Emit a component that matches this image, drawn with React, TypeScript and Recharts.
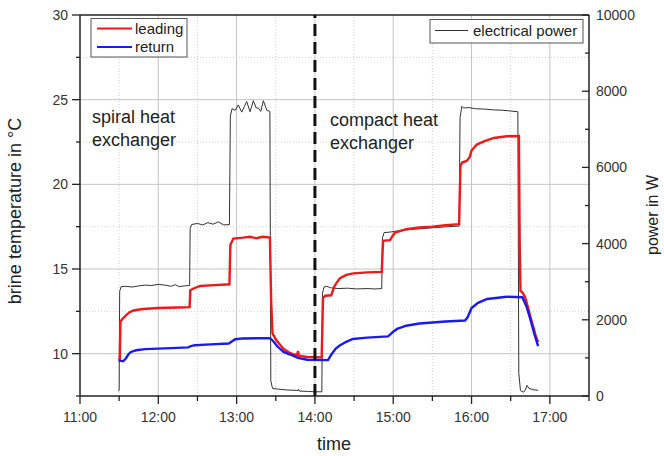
import React from 'react';
import { LineChart, Line, XAxis, YAxis, ReferenceLine } from 'recharts';

// time in minutes since midnight
const timeTickLabels = ['11:00', '12:00', '13:00', '14:00', '15:00', '16:00', '17:00'];
const timeTicks = [660, 690, 720, 750, 780, 810, 840, 870, 900, 930, 960, 990, 1020, 1050];
const tempTicks = [7.5, 10, 12.5, 15, 17.5, 20, 22.5, 25, 27.5, 30];
const powerTicks = [0, 1000, 2000, 3000, 4000, 5000, 6000, 7000, 8000, 9000, 10000];

const gridTimeMajor = [720, 780, 840, 900, 960, 1020];
const gridTimeMinor = [690, 750, 810, 870, 930, 990];
const gridTempMajor = [10, 15, 20, 25];
const gridTempMinor = [12.5, 17.5, 22.5, 27.5];

const switchTime = 840;

// electrical power in W
const powerSeries: [number, number][] = [
  [689.5, 120], [690, 150], [690.4, 2750], [691.5, 2870], [695, 2880], [700, 2860], [705, 2890], [710, 2910],
  [715, 2900], [720, 2930], [725, 2910], [730, 2880], [733, 2920], [736, 2870], [740, 2890], [744, 2900],
  [744.4, 4400], [745.5, 4500], [750, 4530], [754, 4490], [758, 4550], [762, 4510], [766, 4570], [770, 4490], [774.5, 4500],
  [775.2, 7350], [776.5, 7540], [779, 7500], [781.3, 7640], [783.9, 7450], [786, 7600], [787.7, 7730], [790.3, 7460],
  [792.8, 7750], [795, 7560], [796.6, 7560], [798.5, 7470], [800.5, 7750], [803.1, 7500], [805.5, 7470],
  [806.2, 400], [807.5, 200], [812, 180], [818, 160], [824, 150], [827, 145], [827.5, 180], [828, 130], [835, 120],
  [840, 110], [845.3, 110],
  [845.8, 2700], [847, 2860], [849, 2880], [852, 2840], [858, 2820], [865, 2830], [872, 2810], [880, 2820], [886, 2810], [891.2, 2820],
  [891.8, 4150], [893, 4290], [897, 4300], [903, 4330], [910, 4360], [917, 4380], [925, 4400], [932, 4420], [940, 4440],
  [946, 4450], [950.5, 4460],
  [951.2, 7300], [952.5, 7600], [954, 7560], [958, 7570], [963, 7540], [970, 7530], [977, 7510], [984, 7500], [990, 7480], [995.5, 7460],
  [996.2, 600], [997.5, 140], [1000, 100], [1001.5, 180], [1002.5, 280], [1004, 200], [1007, 165], [1011, 150],
];

// leading brine temperature in °C
const leadingSeries: [number, number][] = [
  [689.5, 9.65], [690.5, 9.7], [691, 11.9], [692.5, 12.05], [695, 12.25], [698, 12.45], [701, 12.55], [708, 12.64],
  [720, 12.7], [735, 12.73], [744, 12.75], [744.5, 13.75], [747, 13.85], [752, 14.0], [763, 14.05], [774.5, 14.1],
  [775.2, 16.42], [777.5, 16.8], [785, 16.85], [790, 16.9], [795, 16.82], [800, 16.9], [805.5, 16.85], [806.5, 13],
  [807.5, 11.2], [810, 10.85], [813, 10.55], [816, 10.28], [820, 10.08], [823, 9.97], [826.5, 9.92], [827, 10.15],
  [827.8, 9.88], [834, 9.8], [845.2, 9.78], [846.2, 13.3], [848, 13.42], [852.5, 13.45], [855, 14.0], [859, 14.45],
  [864, 14.65], [869.5, 14.74], [880, 14.8], [891.2, 14.83], [892.2, 16.66], [897.5, 16.7], [899.5, 16.95], [901.3, 17.15],
  [910, 17.35], [920, 17.45], [930, 17.5], [940, 17.58], [950.5, 17.65], [951.5, 21.1], [953, 21.3], [956.3, 21.38],
  [958.5, 21.6], [960, 22.0], [964, 22.35], [970, 22.55], [977, 22.74], [987, 22.84], [996.3, 22.85], [996.9, 16.5],
  [997.5, 13.7], [999, 13.62], [1001, 13.35], [1003, 12.8], [1005, 12.2], [1007.4, 11.56], [1009, 11.1], [1011, 10.68],
];

// return brine temperature in °C
const returnSeries: [number, number][] = [
  [689.5, 9.6], [693, 9.55], [695, 9.7], [697, 9.95], [699, 10.1], [703, 10.2], [710, 10.27], [720, 10.3], [730, 10.33],
  [743, 10.37], [745, 10.45], [748, 10.5], [760, 10.55], [774, 10.6], [776, 10.7], [779, 10.85], [785, 10.9], [805.5, 10.92],
  [808, 10.75], [811, 10.45], [816, 10.1], [821, 9.95], [827, 9.75], [834, 9.64], [850, 9.62], [853, 10.0], [856, 10.3],
  [859, 10.48], [864, 10.7], [869, 10.87], [880, 10.95], [896, 11.02], [898, 11.15], [900, 11.3], [903, 11.46], [910, 11.65],
  [920, 11.78], [940, 11.9], [955, 11.96], [957, 12.15], [960, 12.7], [965, 13.0], [972, 13.23], [987, 13.36], [999, 13.33],
  [1002, 12.8], [1005, 12.05], [1008, 11.2], [1011, 10.45],
];

const toRows = (s: [number, number][]) => s.map(([t, v]) => ({ t, v }));
const powerRows = toRows(powerSeries);
const leadingRows = toRows(leadingSeries);
const returnRows = toRows(returnSeries);

const FONT = '"Liberation Sans", Arial, sans-serif';
const AXIS = '#222';
const TICK_TEXT = '#333';

const LeftTick = (props: any) => {
  const { x, y, payload } = props;
  const v = payload.value;
  const major = v % 5 === 0;
  return (
    <g>
      <line x1={x} x2={x - (major ? 8 : 4)} y1={y} y2={y} stroke={AXIS} strokeWidth={1.3} />
      {major && (
        <text x={x - 12} y={y} dy="0.36em" textAnchor="end" fontSize={14} fontFamily={FONT} fill={TICK_TEXT}>
          {v}
        </text>
      )}
    </g>
  );
};

const RightTick = (props: any) => {
  const { x, y, payload } = props;
  const v = payload.value;
  const major = v % 2000 === 0;
  return (
    <g>
      <line x1={x} x2={x - (major ? 7 : 4)} y1={y} y2={y} stroke={AXIS} strokeWidth={1.3} />
      {major && (
        <text x={x + 7} y={y} dy="0.36em" textAnchor="start" fontSize={14} fontFamily={FONT} fill={TICK_TEXT}>
          {v}
        </text>
      )}
    </g>
  );
};

const BottomTick = (props: any) => {
  const { x, y, payload } = props;
  const v = payload.value;
  const major = v % 60 === 0;
  const idx = (v - 660) / 60;
  return (
    <g>
      <line x1={x} x2={x} y1={y} y2={y + (major ? 8 : 5)} stroke={AXIS} strokeWidth={1.3} />
      {major && timeTickLabels[idx] && (
        <text x={x} y={y + 26} textAnchor="middle" fontSize={14} fontFamily={FONT} fill={TICK_TEXT}>
          {timeTickLabels[idx]}
        </text>
      )}
    </g>
  );
};

export default function App() {
  return (
    <div style={{ position: 'absolute', left: 0, top: 0, width: 664, height: 456, background: '#fff' }}>
      <LineChart width={664} height={456} margin={{ top: 15, right: 0, bottom: 0, left: 0 }}>
        <XAxis
          xAxisId="x"
          dataKey="t"
          type="number"
          domain={[660, 1050]}
          ticks={timeTicks}
          interval={0}
          allowDataOverflow
          height={60}
          tickSize={0}
          tickMargin={0}
          tickLine={false}
          tick={<BottomTick />}
          axisLine={{ stroke: AXIS, strokeWidth: 1.5 }}
        />
        <YAxis
          yAxisId="left"
          orientation="left"
          type="number"
          domain={[7.5, 30]}
          ticks={tempTicks}
          interval={0}
          allowDataOverflow
          width={80}
          tickSize={0}
          tickMargin={0}
          tickLine={false}
          tick={<LeftTick />}
          axisLine={{ stroke: AXIS, strokeWidth: 1.5 }}
        />
        <YAxis
          yAxisId="right"
          orientation="right"
          type="number"
          domain={[0, 10000]}
          ticks={powerTicks}
          interval={0}
          allowDataOverflow
          width={75}
          tickSize={0}
          tickMargin={0}
          tickLine={false}
          tick={<RightTick />}
          axisLine={{ stroke: AXIS, strokeWidth: 1.5 }}
        />
        {gridTimeMinor.map((t) => (
          <ReferenceLine key={'vm' + t} xAxisId="x" yAxisId="left" x={t} stroke="#cfcfcf" strokeWidth={1} strokeDasharray="1 2" />
        ))}
        {gridTempMinor.map((v) => (
          <ReferenceLine key={'hm' + v} xAxisId="x" yAxisId="left" y={v} stroke="#cfcfcf" strokeWidth={1} strokeDasharray="1 2" />
        ))}
        {gridTimeMajor.map((t) => (
          <ReferenceLine key={'vM' + t} xAxisId="x" yAxisId="left" x={t} stroke="#c4c4c4" strokeWidth={1} />
        ))}
        {gridTempMajor.map((v) => (
          <ReferenceLine key={'hM' + v} xAxisId="x" yAxisId="left" y={v} stroke="#c4c4c4" strokeWidth={1} />
        ))}
        <ReferenceLine xAxisId="x" yAxisId="left" y={30} stroke={AXIS} strokeWidth={1.5} />
        <Line
          xAxisId="x"
          yAxisId="right"
          data={powerRows}
          dataKey="v"
          type="linear"
          stroke="#333"
          strokeWidth={1}
          dot={false}
          isAnimationActive={false}
        />
        <Line
          xAxisId="x"
          yAxisId="left"
          data={leadingRows}
          dataKey="v"
          type="linear"
          stroke="#f01818"
          strokeWidth={2.4}
          dot={false}
          isAnimationActive={false}
        />
        <Line
          xAxisId="x"
          yAxisId="left"
          data={returnRows}
          dataKey="v"
          type="linear"
          stroke="#1a1aee"
          strokeWidth={2.4}
          dot={false}
          isAnimationActive={false}
        />
        <ReferenceLine xAxisId="x" yAxisId="left" x={switchTime} stroke="#111" strokeWidth={3} strokeDasharray="12 6" />
      </LineChart>
      <svg
        width={664}
        height={456}
        style={{ position: 'absolute', left: 0, top: 0, pointerEvents: 'none' }}
        fontFamily={FONT}
      >
        {/* axis titles */}
        <text x={21} y={211} transform="rotate(-90 21 211)" textAnchor="middle" fontSize={18} fill="#222">
          brine temperature in °C
        </text>
        <text x={658} y={215} transform="rotate(-90 658 215)" textAnchor="middle" fontSize={16} fill="#222">
          power in W
        </text>
        <text x={334} y={450} textAnchor="middle" fontSize={18} fill="#222">
          time
        </text>
        {/* annotations */}
        <text x={92} y={123} fontSize={18} fill="#222">spiral heat</text>
        <text x={92} y={146} fontSize={18} fill="#222">exchanger</text>
        <text x={330} y={126} fontSize={18} fill="#222">compact heat</text>
        <text x={330} y={149} fontSize={18} fill="#222">exchanger</text>
        {/* legend left */}
        <rect x={91} y={18.5} width={96} height={38.5} fill="#fff" stroke="#555" strokeWidth={1} />
        <line x1={97} x2={132} y1={28.5} y2={28.5} stroke="#f01818" strokeWidth={1.8} />
        <text x={135} y={33.5} fontSize={15} fill="#222">leading</text>
        <line x1={97} x2={132} y1={47} y2={47} stroke="#1a1aee" strokeWidth={1.8} />
        <text x={135} y={52} fontSize={15} fill="#222">return</text>
        {/* legend right */}
        <rect x={430} y={19.5} width={153} height={23.5} fill="#fff" stroke="#555" strokeWidth={1} />
        <line x1={435} x2={468} y1={30.5} y2={30.5} stroke="#333" strokeWidth={1} />
        <text x={473} y={36} fontSize={15} fill="#222">electrical power</text>
      </svg>
    </div>
  );
}
